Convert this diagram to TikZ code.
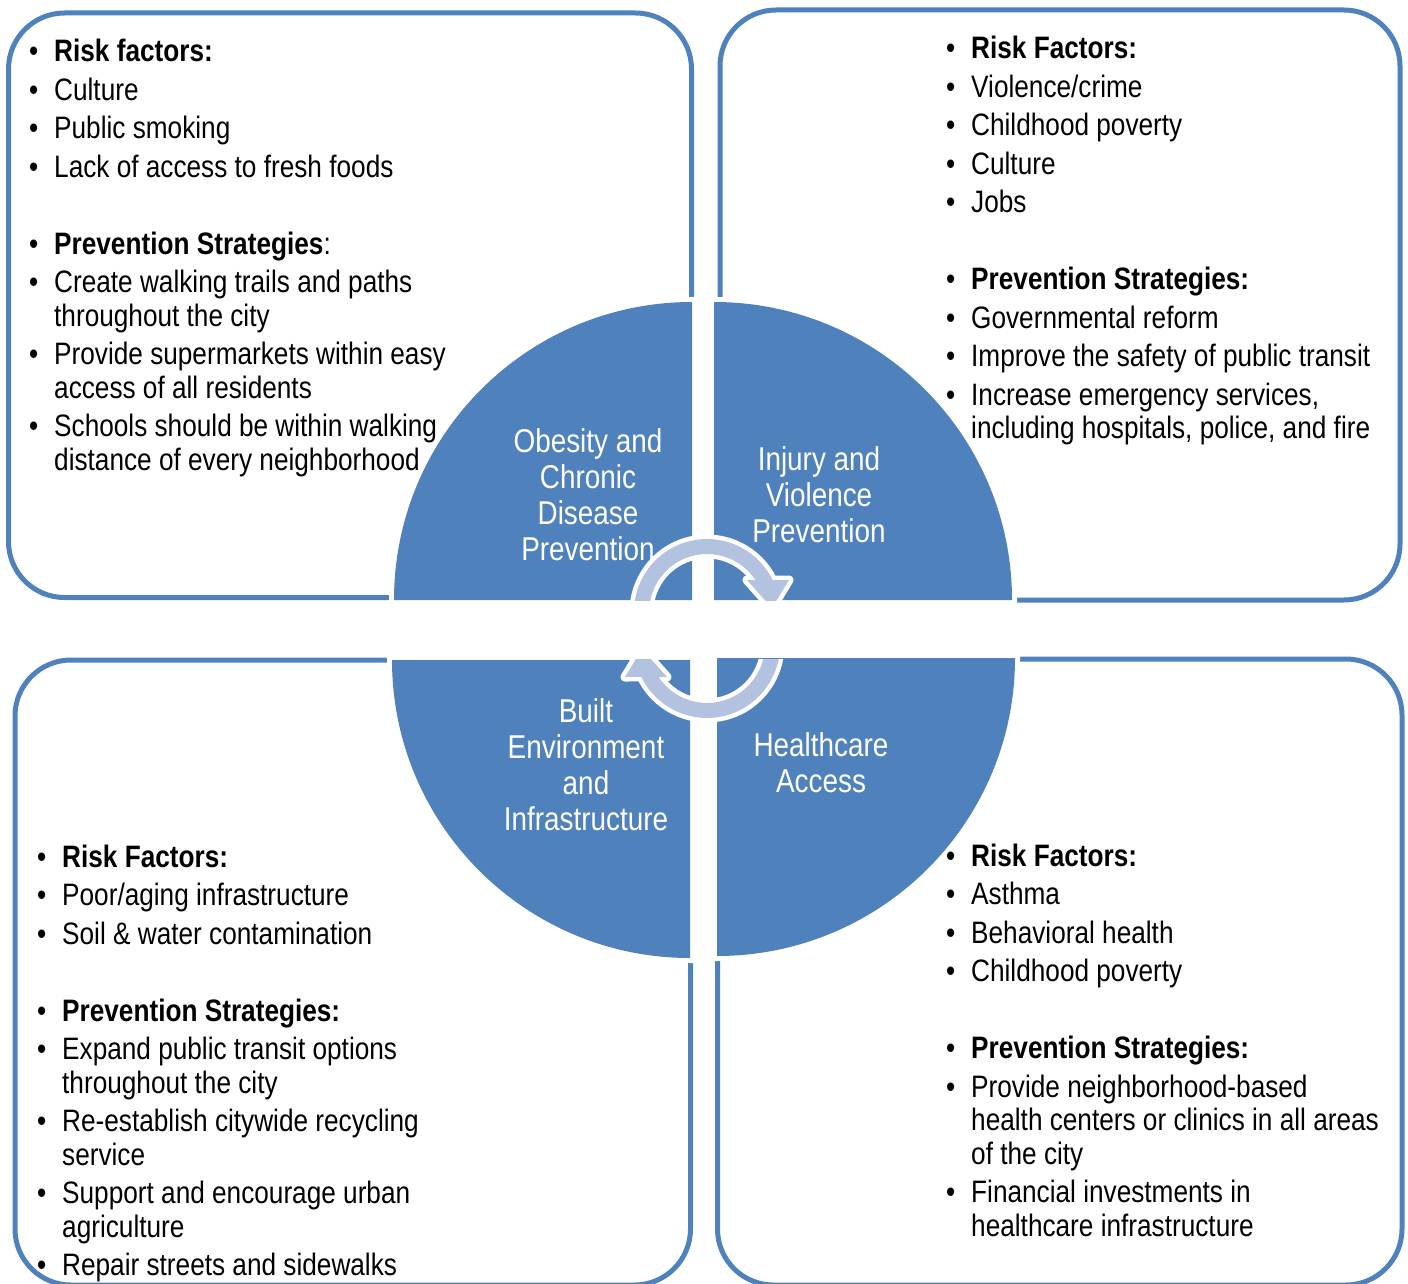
\documentclass[tikz,border=0pt]{standalone}
\usepackage{fontspec}
\setmainfont{Liberation Sans}[FakeStretch=0.845]
\definecolor{accent}{HTML}{4F81BD}
\definecolor{arrowfill}{HTML}{B3C2DF}
% bullet line and continuation line of a list
\newcommand\bitem[1]{\makebox[25pt][l]{\textbullet}#1}
\newcommand\cont[1]{\hspace*{25pt}#1}
\begin{document}
\begin{tikzpicture}[x=1pt,y=-1pt,
  panel/.style={draw=accent, line width=5pt, rounded corners=56pt},
  quadrant/.style={fill=accent, preaction={draw=white, line width=10pt}},
  cyclearrow/.style={fill=arrowfill, preaction={draw=white, line width=9pt, line join=round}},
  listtext/.style={anchor=base west, inner sep=0pt, text=black},
  quadlabel/.style={anchor=base, inner sep=0pt, text=white}]
\useasboundingbox (0,0) rectangle (1408,1284);
\clip (0,0) rectangle (1408,1284);

% four rounded panels
\draw[panel] (8.5,13) rectangle (691.5,597.5);
\draw[panel] (720,10) rectangle (1400,600);
\draw[panel] (15,660) rectangle (690.5,1285);
\draw[panel] (717.5,659) rectangle (1402,1285);

% central disc split into four quadrants
\fill[quadrant] (692,600) -- (394,600) arc[start angle=180,end angle=90,radius=298pt] -- cycle;
\fill[quadrant] (714,600) -- (714,302) arc[start angle=90,end angle=0,radius=298pt] -- cycle;
\fill[quadrant] (690,660) -- (392,660) arc[start angle=180,end angle=270,radius=298pt] -- cycle;
\fill[quadrant] (717,658) -- (1015,658) arc[start angle=0,end angle=-90,radius=298pt] -- cycle;

% panel texts
\node[listtext] (tlText) at (29,62) {\parbox[t]{640pt}{\fontsize{31pt}{33.5pt}\selectfont
\bitem{\textbf{Risk factors:}}\\[5pt]
\bitem{Culture}\\[5pt]
\bitem{Public smoking}\\[5pt]
\bitem{Lack of access to fresh foods}\\[43.5pt]
\bitem{\textbf{Prevention Strategies}:}\\[5pt]
\bitem{Create walking trails and paths}\\
\cont{throughout the city}\\[5pt]
\bitem{Provide supermarkets within easy}\\
\cont{access of all residents}\\[5pt]
\bitem{Schools should be within walking}\\
\cont{distance of every neighborhood}}};

\node[listtext] (trText) at (946,59) {\parbox[t]{440pt}{\fontsize{31pt}{33.5pt}\selectfont
\bitem{\textbf{Risk Factors:}}\\[5pt]
\bitem{Violence/crime}\\[5pt]
\bitem{Childhood poverty}\\[5pt]
\bitem{Culture}\\[5pt]
\bitem{Jobs}\\[43.5pt]
\bitem{\textbf{Prevention Strategies:}}\\[5pt]
\bitem{Governmental reform}\\[5pt]
\bitem{Improve the safety of public transit}\\[5pt]
\bitem{Increase emergency services,}\\
\cont{including hospitals, police, and fire}}};

\node[listtext] (blText) at (37,867) {\parbox[t]{640pt}{\fontsize{31pt}{33.5pt}\selectfont
\bitem{\textbf{Risk Factors:}}\\[5pt]
\bitem{Poor/aging infrastructure}\\[5pt]
\bitem{Soil \& water contamination}\\[43.5pt]
\bitem{\textbf{Prevention Strategies:}}\\[5pt]
\bitem{Expand public transit options}\\
\cont{throughout the city}\\[5pt]
\bitem{Re-establish citywide recycling}\\
\cont{service}\\[5pt]
\bitem{Support and encourage urban}\\
\cont{agriculture}\\[5pt]
\bitem{Repair streets and sidewalks}}};

\node[listtext] (brText) at (946,866) {\parbox[t]{440pt}{\fontsize{31pt}{33.5pt}\selectfont
\bitem{\textbf{Risk Factors:}}\\[5pt]
\bitem{Asthma}\\[5pt]
\bitem{Behavioral health}\\[5pt]
\bitem{Childhood poverty}\\[43.5pt]
\bitem{\textbf{Prevention Strategies:}}\\[5pt]
\bitem{Provide neighborhood-based}\\
\cont{health centers or clinics in all areas}\\
\cont{of the city}\\[5pt]
\bitem{Financial investments in}\\
\cont{healthcare infrastructure}}};

% quadrant labels
\node[quadlabel] (obesity) at (588,452) {\parbox[t]{300pt}{\centering\fontsize{33pt}{36pt}\selectfont
Obesity and\\Chronic\\Disease\\Prevention}};
\node[quadlabel] (injury) at (819,470) {\parbox[t]{300pt}{\centering\fontsize{33pt}{36pt}\selectfont
Injury and\\Violence\\Prevention}};
\node[quadlabel] (built) at (586,722) {\parbox[t]{300pt}{\centering\fontsize{33pt}{36pt}\selectfont
Built\\Environment\\and\\Infrastructure}};
\node[quadlabel] (health) at (821,756) {\parbox[t]{300pt}{\centering\fontsize{33pt}{36pt}\selectfont
Healthcare\\Access}};

% circular arrows, cut by the horizontal gap
\begin{scope}
\clip (0,0) rectangle (1408,600);
\fill[cyclearrow] (635.1,624.7) arc[start angle=190,end angle=26,radius=73pt]
  -- (789,580) -- (772,608) -- (747,580) -- (755.4,580)
  arc[start angle=33.5,end angle=190,radius=58pt] -- cycle;
\end{scope}
\begin{scope}
\clip (0,659) rectangle (1408,1284);
\fill[cyclearrow] (778.9,632.3) arc[start angle=10,end angle=-154,radius=73pt]
  -- (625,677) -- (642,649) -- (667,677) -- (658.6,677)
  arc[start angle=213.5,end angle=370,radius=58pt] -- cycle;
\end{scope}
\end{tikzpicture}
\end{document}
